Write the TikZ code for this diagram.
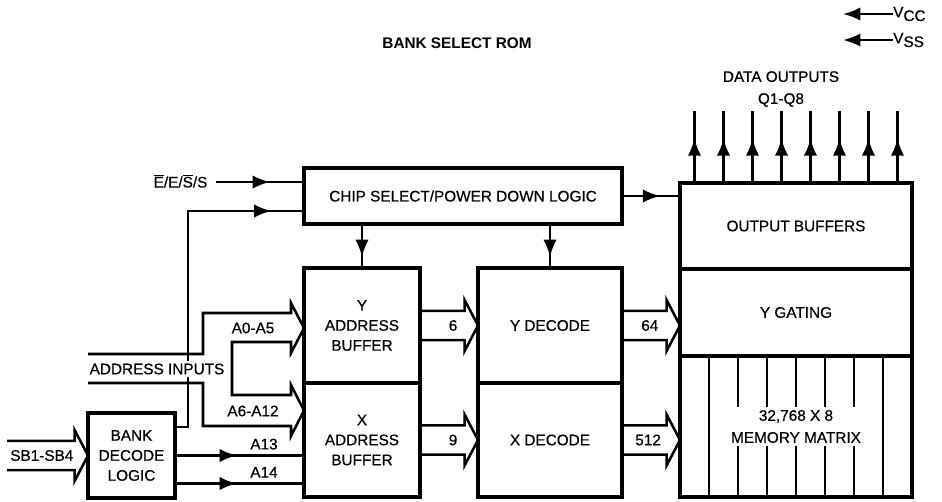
\documentclass[tikz,border=0pt]{standalone}
\usepackage{fontspec}
\setmainfont{Liberation Sans}[FakeBold=0.5, BoldFont={Liberation Sans Bold}, BoldFeatures={FakeBold=0}]
\usetikzlibrary{arrows.meta,positioning,calc,decorations.markings}
\newcommand{\busline}[5]{% name, tail, tip, label pos, label
  \draw[bus] let \p1=(#2), \p2=(#3) in
    (\x1,\y2+11pt) -- (\x2-10pt,\y2+11pt) -- (\x2-10pt,\y2+19pt) -- (\x2,\y2)
    -- (\x2-10pt,\y2-19pt) -- (\x2-10pt,\y2-11pt) -- (\x1,\y2-11pt);
  \node[lbl] (#1) at ($(#2)!#4!(#3)$) {#5};
}

\begin{document}
\begin{tikzpicture}[
    x=0.75pt, y=-0.75pt,
    lbl/.style={font=\fontsize{11.5}{15}\selectfont, align=center, inner sep=2pt},
    box/.style={
      draw, line width=2.3pt, outer sep=0pt, inner sep=0pt, align=center,
      font=\fontsize{11.5}{15}\selectfont
    },
    line/.style={line width=1.9pt, line cap=rect},
    bus/.style={line width=1.9pt, line join=miter},
    endarrow/.style={-{Latex[length=13pt,width=10pt]}, line width=1.9pt},
    midarrow/.style={
      line width=1.9pt, line cap=rect, postaction={decorate},
      decoration={markings, mark=at position #1 with {\arrow{Latex[length=13pt,width=10pt]}}}
    }
  ]
  \useasboundingbox (0,0) rectangle (942,501);

  \node[lbl, font=\bfseries\fontsize{11.5}{15}\selectfont] (title) at (457,43) {BANK SELECT ROM};

  % supply pins
  \node[lbl, anchor=west, inner sep=0pt] (vcc) at (893,14) {V\raisebox{-0.45ex}{CC}};
  \node[lbl, anchor=west, inner sep=0pt] (vss) at (893,40) {V\raisebox{-0.45ex}{SS}};
  \draw[endarrow] (vcc.west) -- ++(-50,0);
  \draw[endarrow] (vss.west) -- ++(-50,0);

  % blocks
  \node[box, minimum width=238.5pt, minimum height=42pt] (cs) at (463,196) {CHIP SELECT/POWER DOWN LOGIC};
  \node[box, minimum width=87pt, minimum height=86.25pt] (yab) at (362,325.5) {Y\\ADDRESS\\BUFFER};
  \node[box, minimum width=87pt, minimum height=85.5pt, below=0pt of yab] (xab) {X\\ADDRESS\\BUFFER};
  \node[box, minimum width=108pt, minimum height=86.25pt] (yd) at (550,325.5) {Y DECODE};
  \node[box, minimum width=108pt, minimum height=85.5pt, below=0pt of yd] (xd) {X DECODE};
  \node[box, minimum width=174pt, minimum height=64.5pt] (ob) at (796,226) {OUTPUT BUFFERS};
  \node[box, minimum width=174pt, minimum height=65.25pt, below=0pt of ob] (yg) {Y GATING};
  \node[box, minimum width=174pt, minimum height=105.75pt, below=0pt of yg] (mm) {};
  \node[box, minimum width=65.25pt, minimum height=63.75pt] (bdl) at (131.5,455.5) {BANK\\DECODE\\LOGIC};

  % memory matrix columns
  \foreach \k in {1,...,7}
    \draw[line] ([xshift=\k*21.75pt]mm.north west) -- ([xshift=\k*21.75pt]mm.south west);
  \node[lbl, fill=white, font=\fontsize{11.5}{16.5}\selectfont] (mmt) at (mm.center) {32,768 X 8\\MEMORY MATRIX};

  % data outputs
  \foreach \k in {0,...,7}
    \draw[midarrow=0.63] ([xshift=10.875pt+\k*21.75pt]ob.north west) -- ++(0,-71);
  \node[lbl, font=\fontsize{11.5}{16.5}\selectfont] (dout) at (781,89) {DATA OUTPUTS\\Q1-Q8};

  % chip select inputs
  \node[lbl, anchor=east, inner xsep=7pt, text height=8.3pt, text depth=0pt] (ees) at (217,182)
    {$\overline{\mbox{E}}$/E/$\overline{\mbox{S}}$/S};
  \draw[midarrow=0.61] (ees.east) -- (ees.east -| cs.west);
  \coordinate (bsel) at (188,211);
  \draw[line] ([yshift=-10.5pt]bdl.north east) -| (bsel);
  \draw[midarrow=0.72] (bsel) -- (bsel -| cs.west);

  % chip select outputs
  \draw[midarrow=0.75] (cs.south -| yab.north) -- (yab.north);
  \draw[midarrow=0.75] (cs.south -| yd.north) -- (yd.north);
  \draw[midarrow=0.66] (cs.east) -- (cs.east -| ob.west);

  % address input bus
  \draw[bus] (88,354) -- (203,354) -- (203,313) -- (291,313) -- (291,303) -- (304,328)
    -- (291,353) -- (291,342) -- (232,342) -- (232,395) -- (291,395) -- (291,385)
    -- (304,410.5) -- (291,436) -- (291,426) -- (203,426) -- (203,383) -- (88,383);
  \node[lbl] (a05) at (253,328) {A0-A5};
  \node[lbl] (a612) at (253,411) {A6-A12};
  \node[lbl, fill=white] (ain) at (157,369) {ADDRESS INPUTS};

  % bank select lines
  \coordinate (a14s) at ([yshift=-21pt]bdl.east);
  \draw[midarrow=0.48] (bdl.east) -- (bdl.east -| xab.west)
    node[lbl, pos=0.69, above=1.5pt] (a13) {A13};
  \draw[midarrow=0.48] (a14s) -- (a14s -| xab.west)
    node[lbl, pos=0.69, above=1.5pt] (a14) {A14};

  % internal buses
  \busline{b6}{yab.east}{yd.west}{0.57}{6}
  \busline{b9}{xab.east}{xd.west}{0.57}{9}
  \busline{b64}{yd.east}{yd.east -| yg.west}{0.48}{64}
  \busline{b512}{xd.east}{xd.east -| mm.west}{0.45}{512}
  \coordinate (sbin) at (7,455.5);
  \busline{bsb}{sbin}{bdl.west}{0.43}{SB1-SB4}
\end{tikzpicture}
\end{document}
